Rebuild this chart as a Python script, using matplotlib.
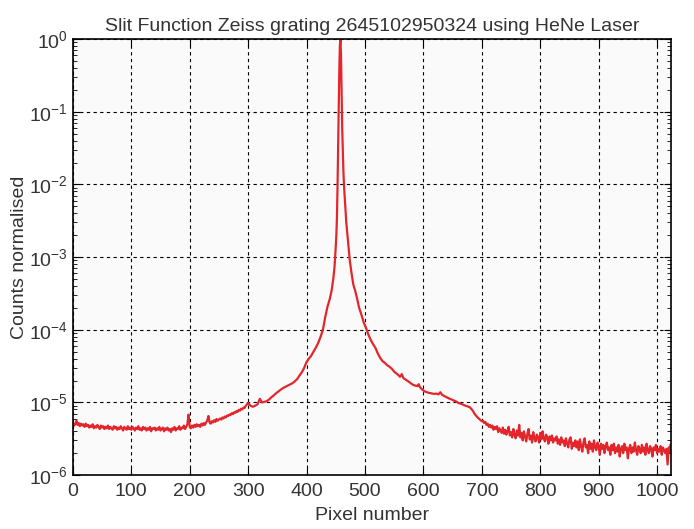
#Slit function of the Zeiss grating measured with a HeNe laser, log scale
import matplotlib
matplotlib.use('Agg')
import matplotlib.pyplot as plt
import numpy as np

#DATA (counts in units of 1e-6)
#left tail, every 2 pixels
pix_left = list(range(0, 302, 2))
cnt_left = [5.3, 4.8, 5.0, 5.6, 4.9, 5.2, 4.7, 5.1, 4.8, 5.0, 4.6, 5.1, 4.7, 4.9, 4.5, 4.8, 4.6, 5.0, 4.4, 4.7,
            4.5, 4.9, 4.6, 4.3, 4.8, 4.5, 4.7, 4.3, 4.6, 4.4, 4.8, 4.3, 4.6, 4.4, 4.2, 4.7, 4.4, 4.6, 4.2, 4.5,
            4.3, 4.7, 4.4, 4.1, 4.6, 4.4, 4.2, 4.7, 4.3, 4.5, 4.2, 4.6, 4.4, 4.1, 4.5, 4.3, 4.7, 4.2, 4.4, 4.1,
            4.6, 4.3, 4.5, 4.1, 4.4, 4.2, 4.6, 4.0, 4.4, 4.3, 4.5, 4.1, 4.4, 4.2, 4.6, 4.1, 4.3, 4.5, 4.0, 4.4,
            4.2, 4.5, 4.1, 4.3, 3.9, 4.4, 4.2, 4.6, 4.1, 4.4, 4.3, 4.7, 4.2, 4.5, 4.4, 4.8, 4.3, 4.6, 5.0, 6.8,
            4.6, 4.4, 4.8, 4.5, 4.9, 4.6, 5.0, 4.7, 4.9, 4.6, 5.1, 4.8, 5.2, 4.9, 5.3, 5.6, 6.5, 5.3, 5.1, 5.5,
            5.3, 5.7, 5.4, 5.9, 5.6, 5.8, 6.0, 5.8, 6.2, 6.0, 6.4, 6.2, 6.6, 6.5, 6.8, 6.7, 7.1, 6.9, 7.3, 7.2,
            7.6, 7.4, 7.9, 7.7, 8.2, 8.0, 8.5, 8.4, 9.0, 9.4, 9.8]
#wings and peak
pix_peak = [304, 308, 312, 316, 320, 324, 328, 332, 336, 340, 344, 348, 352, 356, 360, 364, 368, 372, 376, 380,
            384, 388, 392, 396, 400, 404, 408, 412, 416, 420, 424, 428, 432, 436, 440, 443, 446, 448,
            449, 450, 451, 452, 453, 454, 455, 456, 457, 458, 459, 460, 461, 462, 463, 464, 466, 468, 470, 472,
            474, 477, 480, 483, 486, 490, 494, 498, 502, 506, 510, 514, 518, 522, 526, 530, 534, 538, 542, 546,
            550, 554, 558, 560, 563, 566, 570, 574, 578, 582, 586, 590, 592, 594, 598, 602, 606, 610, 614, 618,
            622, 626, 629, 632, 636, 640, 644, 648, 652, 656, 660, 664, 668, 672, 676, 680, 684, 688, 692, 696]
cnt_peak = [9.0, 8.7, 9.0, 9.4, 11.2, 10.0, 10.2, 10.4, 11.0, 11.8, 12.5, 13.4, 14.2, 15.0, 15.8, 16.4, 17.0, 17.6, 18.4, 19.5,
            21.0, 23.5, 26.0, 30.0, 36.0, 40.0, 44.0, 50.0, 57.0, 66.0, 80.0, 100.0, 150.0, 210.0, 270.0, 350.0, 520.0, 750.0,
            1000, 1400, 2000, 3500, 9000, 30000, 100000, 350000, 800000, 1000000, 600000, 200000, 60000, 30000, 16000, 10000, 5500, 3000, 2000, 1300,
            900, 600, 420, 350, 280, 200, 160, 125, 105, 85, 72, 63, 56, 47, 41, 37, 35, 32.5, 31, 29,
            26.5, 25, 23.5, 22.5, 24.5, 21.5, 20.5, 19.5, 18.5, 17.5, 17.0, 16.8, 17.8, 16.2, 15.0, 14.2, 13.8, 13.5, 13.3, 13.1,
            13.2, 12.9, 13.8, 12.7, 12.2, 11.7, 11.3, 11.0, 10.6, 10.3, 9.8, 9.6, 9.3, 9.0, 8.8, 8.5, 7.8, 6.9, 6.3, 5.9]
#right tail, every 2 pixels
pix_right = list(range(700, 1024, 2)) + [1023]
cnt_right = [5.5, 5.6, 5.2, 5.4, 4.9, 5.1, 4.6, 4.9, 4.5, 4.8, 4.2, 4.6, 4.3, 4.7, 3.9, 4.4, 4.1, 3.8, 4.5, 3.7,
             4.2, 3.6, 4.0, 4.6, 3.5, 3.9, 3.3, 4.3, 3.6, 3.2, 4.1, 3.5, 4.9, 3.3, 3.8, 3.0, 4.0, 3.4, 2.9, 3.7,
             4.3, 3.1, 3.5, 2.8, 3.9, 3.2, 2.9, 3.6, 3.3, 2.8, 3.8, 3.1, 4.0, 3.2, 2.9, 3.6, 3.3, 2.7, 3.4, 3.0,
             3.5, 2.8, 3.2, 3.0, 3.4, 2.7, 3.1, 2.6, 3.3, 2.8, 3.0, 2.5, 3.2, 2.7, 2.4, 3.1, 3.3, 2.3, 2.8, 2.5,
             3.0, 2.4, 2.9, 2.2, 3.1, 2.5, 2.1, 2.8, 3.2, 2.4, 2.6, 2.0, 2.9, 2.3, 2.7, 2.1, 3.0, 2.4, 2.2, 2.8,
             2.5, 1.9, 2.7, 2.3, 2.6, 2.0, 2.5, 2.8, 2.2, 2.4, 1.9, 2.6, 2.2, 2.7, 2.0, 2.4, 2.1, 2.6, 1.8, 2.3,
             2.5, 2.0, 2.7, 2.2, 2.4, 1.7, 2.3, 2.6, 2.0, 2.4, 2.1, 2.8, 2.2, 1.9, 2.5, 2.3, 2.0, 2.6, 2.1, 2.4,
             1.9, 2.7, 2.2, 2.0, 2.5, 2.3, 1.8, 2.4, 2.2, 2.6, 2.0, 2.3, 2.1, 2.5, 1.9, 2.4, 2.2, 2.0, 2.3, 1.4,
             2.4, 2.1, 2.6]
xticks = [0, 100, 200, 300, 400, 500, 600, 700, 800, 900, 1000]

#STYLE
plt.rcParams['font.family'] = ['Liberation Sans', 'DejaVu Sans']
plt.rcParams['mathtext.default'] = 'regular'
txt = '#333333'

pixel = pix_left + pix_peak + pix_right
counts = np.array(cnt_left + cnt_peak + cnt_right) * 1e-6

#PLOT
fig = plt.figure(figsize=(6.94, 5.29), dpi=100)
ax = fig.add_axes([0.105, 0.102, 0.862, 0.824])
ax.set_facecolor('#fafafa')
ax.semilogy(pixel, counts, color='#e3262b', lw=1.6)
ax.set_xlim(0, 1024)
ax.set_ylim(1e-6, 1)
ax.set_xticks(xticks)
ax.grid(True, which='major', color='black', linestyle=(0, (3, 3)), lw=0.8)
ax.tick_params(which='both', direction='in', top=True, right=True, labelsize=14, labelcolor=txt)
ax.tick_params(which='major', length=5, width=0.8)
ax.tick_params(which='minor', length=3, width=0.6)
ax.tick_params(axis='x', pad=6)
for s in ax.spines.values():
    s.set_linewidth(1.2)
ax.set_xlabel('Pixel number', fontsize=14, color=txt, labelpad=5)
ax.set_ylabel('Counts normalised', fontsize=14, color=txt, labelpad=1)
ax.set_title('Slit Function Zeiss grating 2645102950324 using HeNe Laser', fontsize=14, color=txt, pad=6)

plt.savefig('out.png', dpi=100)
